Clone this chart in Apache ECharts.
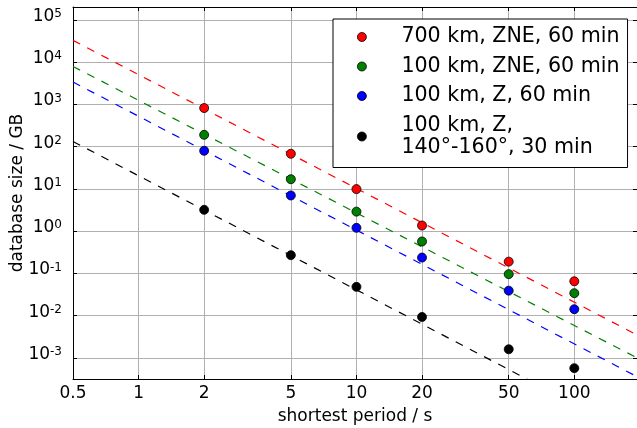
<!DOCTYPE html>
<html><head><meta charset="utf-8">
<script src="https://cdn.jsdelivr.net/npm/echarts@6/dist/echarts.min.js"></script>
<style>html,body{margin:0;padding:0;background:#fff}#c{width:637px;height:428px}</style>
</head><body><div id="c"></div>
<script>
// ---- data ----
const periods = [2, 5, 10, 20, 50, 100];
const seriesNames = ['700 km, ZNE, 60 min', '100 km, ZNE, 60 min', '100 km, Z, 60 min', '100 km, Z,\n140°-160°, 30 min'];
const seriesColors = ['#ff0000', '#008000', '#0000ff', '#000000'];
const size700kmZNE = [822, 68, 9.9, 1.36, 0.19, 0.065];
const size100kmZNE = [191, 17, 2.9, 0.57, 0.096, 0.034];
const size100kmZ = [80, 7.0, 1.2, 0.237, 0.039, 0.0142];
const size100kmZNarrow = [3.2, 0.27, 0.048, 0.0093, 0.0016, 0.00057];
const fitPeriods = [0.5, 194];
const fit700kmZNE = [32900, 0.00349];
const fit100kmZNE = [7940, 0.001];
const fit100kmZ = [3400, 0.000359];
const fit100kmZNarrow = [133, 1.36e-5];
const xTickValues = [0.5, 1, 2, 5, 10, 20, 50, 100];
const xTickLabels = ['0.5', '1', '2', '5', '10', '20', '50', '100'];
const yTickValues = [1e-3, 1e-2, 1e-1, 1e0, 1e1, 1e2, 1e3, 1e4, 1e5];
const yTickExponents = ['-3', '-2', '-1', '0', '1', '2', '3', '4', '5'];
const xMin = 0.5, xMax = 194, yMin = 3.16e-4, yMax = 2.03e5;

const pointSets = [size700kmZNE, size100kmZNE, size100kmZ, size100kmZNarrow];
const fitSets = [fit700kmZNE, fit100kmZNE, fit100kmZ, fit100kmZNarrow];

const FONT = 'DejaVu Sans';
function nearestIdx(arr, v) {
  let best = 0, bd = Infinity;
  arr.forEach((a, i) => { const d = Math.abs(Math.log(a) - Math.log(v)); if (d < bd) { bd = d; best = i; } });
  return best;
}

const series = [];
fitSets.forEach((f, i) => {
  series.push({
    type: 'line', name: 'fit' + i, silent: true, z: 2,
    data: fitPeriods.map((p, j) => [p, f[j]]),
    symbol: 'none', clip: true,
    lineStyle: { color: seriesColors[i], width: 1.2, type: [8, 8] }
  });
});
pointSets.forEach((vals, i) => {
  series.push({
    type: 'scatter', name: seriesNames[i], z: 3,
    data: periods.map((p, j) => [p, vals[j]]),
    symbol: 'circle', symbolSize: 9,
    itemStyle: { color: seriesColors[i], borderColor: '#000', borderWidth: 0.8, opacity: 1 }
  });
});

const axisLineStyle = { color: '#000', width: 1 };
const option = {
  animation: false,
  backgroundColor: '#fff',
  textStyle: { fontFamily: FONT },
  grid: { left: 73, right: 0, top: 7, bottom: 49, containLabel: false, outerBoundsMode: 'none' },
  xAxis: [{
    type: 'log', min: xMin, max: xMax, position: 'bottom',
    name: 'shortest period / s', nameLocation: 'middle', nameGap: 29, nameMoveOverlap: false,
    nameTextStyle: { fontSize: 17, color: '#000', fontFamily: FONT },
    axisLine: { show: true, lineStyle: axisLineStyle },
    axisTick: { show: true, inside: true, length: 4, customValues: xTickValues, lineStyle: axisLineStyle },
    axisLabel: { show: true, customValues: xTickValues, margin: 6, fontSize: 17, color: '#000', fontFamily: FONT,
      formatter: v => xTickLabels[nearestIdx(xTickValues, v)] },
    splitLine: { show: true, lineStyle: { color: '#b0b0b0', width: 1 } },
    minorTick: { show: false }, minorSplitLine: { show: false }
  }, {
    type: 'log', min: xMin, max: xMax, position: 'top',
    axisLine: { show: true, lineStyle: axisLineStyle },
    axisTick: { show: true, inside: true, length: 4, customValues: xTickValues, lineStyle: axisLineStyle },
    axisLabel: { show: false, customValues: xTickValues },
    splitLine: { show: false }
  }],
  yAxis: [{
    type: 'log', min: yMin, max: yMax, position: 'left',
    name: 'database size / GB', nameLocation: 'middle', nameGap: 47, nameRotate: 90, nameMoveOverlap: false,
    nameTextStyle: { fontSize: 17, color: '#000', fontFamily: FONT },
    axisLine: { show: true, lineStyle: axisLineStyle },
    axisTick: { show: true, inside: true, length: 4, customValues: yTickValues, lineStyle: axisLineStyle },
    axisLabel: { show: true, customValues: yTickValues, margin: 11, color: '#000', fontFamily: FONT,
      padding: [0, 0, 7, 0],
      formatter: v => '{b|10}{s|' + yTickExponents[nearestIdx(yTickValues, v)] + '}',
      rich: {
        b: { fontSize: 17, lineHeight: 17, padding: [7, 0, 0, 0], verticalAlign: 'bottom', color: '#000', fontFamily: FONT },
        s: { fontSize: 12, lineHeight: 12, verticalAlign: 'top', color: '#000', fontFamily: FONT }
      } },
    splitLine: { show: true, lineStyle: { color: '#b0b0b0', width: 1 } },
    minorTick: { show: false }, minorSplitLine: { show: false }
  }, {
    type: 'log', min: yMin, max: yMax, position: 'right',
    axisLine: { show: false },
    axisTick: { show: true, inside: true, length: 4, customValues: yTickValues, lineStyle: axisLineStyle },
    axisLabel: { show: false, customValues: yTickValues },
    splitLine: { show: false }
  }],
  legend: {
    left: 333, top: 19, orient: 'vertical',
    data: seriesNames,
    padding: [7, 8, 9, 24], itemGap: 7.5,
    itemWidth: 9, itemHeight: 9, icon: 'circle',
    itemStyle: { borderColor: '#000', borderWidth: 0.8 },
    textStyle: { fontSize: 20.6, lineHeight: 22, color: '#000', fontFamily: FONT, padding: [0, 0, 0, 30] },
    borderColor: '#000', borderWidth: 1, backgroundColor: '#fff', borderRadius: 0
  },
  series: series
};
const chart = echarts.init(document.getElementById('c'), null, { renderer: 'canvas' });
chart.setOption(option);
</script>
</body></html>
